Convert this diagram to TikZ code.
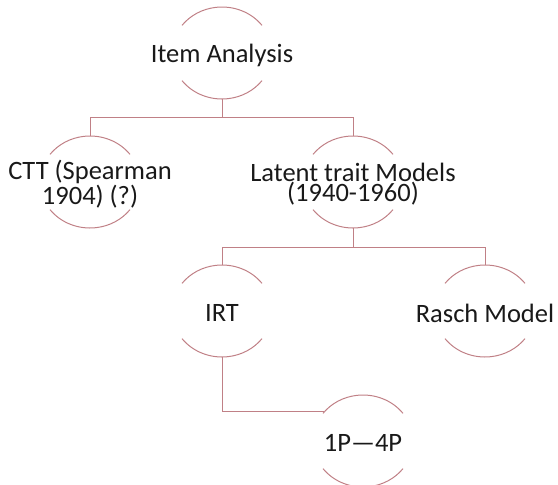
\documentclass[tikz,border=0pt]{standalone}
\usepackage{fontspec}
\setmainfont{Carlito}
\usetikzlibrary{shapes.geometric}
\definecolor{rim}{RGB}{192,128,134}

\begin{document}
\begin{tikzpicture}[x=1pt,y=-1pt]
\tikzstyle{every node}+=[font=\fontsize{26.5}{20}\selectfont]
\tikzstyle{bubble}=[ellipse,minimum width=100pt,minimum height=92pt,inner sep=0pt]
\tikzstyle{caption}=[align=center,inner sep=0pt,yshift=-2pt,text=black!90]
\tikzstyle{link}=[draw=rim,line width=1pt]

\useasboundingbox (0,0) rectangle (558,485);

\node[bubble,label={[caption]center:{Item Analysis}}] (ia) at (222,53) {};
\node[bubble,label={[caption]center:{CTT (Spearman\\1904) (?)}}] (ctt) at (90,182) {};
\node[bubble,label={[caption]center:{Latent trait Models\\(1940-1960)}}] (ltm) at (353,182) {};
\node[bubble,label={[caption]center:{IRT}}] (irt) at (222,311) {};
\node[bubble,label={[caption]center:{Rasch Model}}] (rasch) at (485,311) {};
\node[bubble,label={[caption]center:{1P---4P}}] (pl) at (363,441) {};

% open rims, top and bottom only
\foreach \n in {ia,ctt,ltm,irt,rasch,pl}{
  \draw[link] ([shift={(37:50pt and 46pt)}]\n.center) arc[start angle=37,end angle=143,x radius=50pt,y radius=46pt];
  \draw[link] ([shift={(217:50pt and 46pt)}]\n.center) arc[start angle=217,end angle=323,x radius=50pt,y radius=46pt];
}

\path[link]
  (ia.south) -- ++(0,18) -| (ctt.north)
  (ia.south) -- ++(0,18) -| (ltm.north)
  (ltm.south) -- ++(0,19) -| (irt.north)
  (ltm.south) -- ++(0,19) -| (rasch.north)
  (irt.south) |- (pl.143)
;
\end{tikzpicture}
\end{document}
